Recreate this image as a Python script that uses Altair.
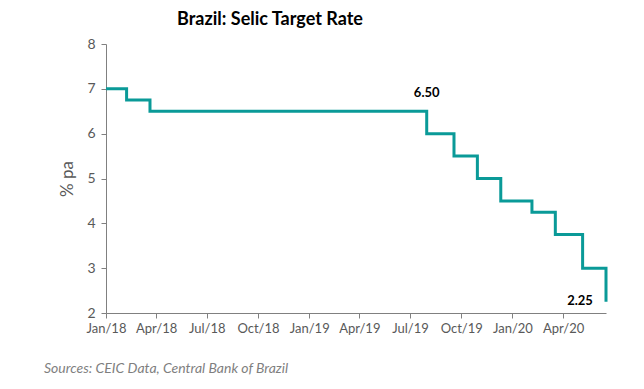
import altair as alt
import pandas as pd

# Selic target rate changes (date of change, new rate in % pa)
dates = ["2018-01-01", "2018-02-07", "2018-03-21", "2019-07-31", "2019-09-18",
         "2019-10-30", "2019-12-11", "2020-02-05", "2020-03-18", "2020-05-06",
         "2020-06-17"]
rates = [7.00, 6.75, 6.50, 6.00, 5.50, 5.00, 4.50, 4.25, 3.75, 3.00, 2.25]

label_dates = ["2019-07-31", "2020-06-17"]
label_values = [6.50, 2.25]
label_text = ["6.50", "2.25"]

tick_dates = ["2018-01-01", "2018-04-01", "2018-07-01", "2018-10-01", "2019-01-01",
              "2019-04-01", "2019-07-01", "2019-10-01", "2020-01-01", "2020-04-01"]

FONT = "Lato"
GREY = "#595959"
TEAL = "#0A9A98"

df = pd.DataFrame({"date": dates, "rate": rates})
lab = pd.DataFrame({"date": label_dates, "rate": label_values, "text": label_text})

xscale = alt.Scale(type="utc", domain=["2018-01-01", "2020-06-17"])
yscale = alt.Scale(domain=[2, 8], nice=False)

line = alt.Chart(df).mark_line(interpolate="step-after", color=TEAL, strokeWidth=3).encode(
    x=alt.X("date:T", scale=xscale, title=None,
            axis=alt.Axis(values=[alt.DateTime(year=int(d[:4]), month=int(d[5:7]), date=1, utc=True) for d in tick_dates],
                          labelExpr="utcFormat(datum.value, '%b/%y')",
                          grid=False, domainColor="#808080", tickColor="#808080",
                          tickSize=5, labelColor=GREY, labelFont=FONT, labelFontSize=13,
                          labelPadding=4, labelOverlap=False, labelFlush=False)),
    y=alt.Y("rate:Q", scale=yscale, title="% pa",
            axis=alt.Axis(values=[2, 3, 4, 5, 6, 7, 8], grid=False, domainColor="#808080",
                          tickColor="#808080", tickSize=5, labelColor=GREY, labelFont=FONT,
                          labelFontSize=14, labelPadding=6, titleColor=GREY, titleFont=FONT,
                          titleFontSize=17, titleFontWeight="normal", titlePadding=10)),
)

lab1 = alt.Chart(lab.iloc[[0]]).mark_text(font=FONT, fontWeight="bold", fontSize=13,
                                          color="#000000", dy=-18).encode(
    x=alt.X("date:T", scale=xscale), y=alt.Y("rate:Q", scale=yscale), text="text:N")
lab2 = alt.Chart(lab.iloc[[1]]).mark_text(font=FONT, fontWeight="bold", fontSize=13,
                                          color="#000000", dx=-26, dy=-1).encode(
    x=alt.X("date:T", scale=xscale), y=alt.Y("rate:Q", scale=yscale), text="text:N")

title = alt.Chart(pd.DataFrame({"t": ["Brazil: Selic Target Rate"]})).mark_text(
    font=FONT, fontWeight="bold", fontSize=18, color="#000000", align="center", baseline="middle"
).encode(x=alt.value(164), y=alt.value(-24), text="t:N")

source = alt.Chart(pd.DataFrame({"t": ["Sources: CEIC Data, Central Bank of Brazil"]})).mark_text(
    font=FONT, fontStyle="italic", fontSize=14, color="#7F7F7F", align="left", baseline="middle"
).encode(x=alt.value(-62), y=alt.value(325), text="t:N")

chart = alt.layer(line, lab1, lab2, title, source).properties(
    width=500, height=269,
    autosize=alt.AutoSizeParams(type="none"),
    padding={"left": 98, "top": 36, "right": 20, "bottom": 72},
).configure_view(stroke=None)

chart.save("out.html", embed_options={"renderer": "svg", "actions": False})
